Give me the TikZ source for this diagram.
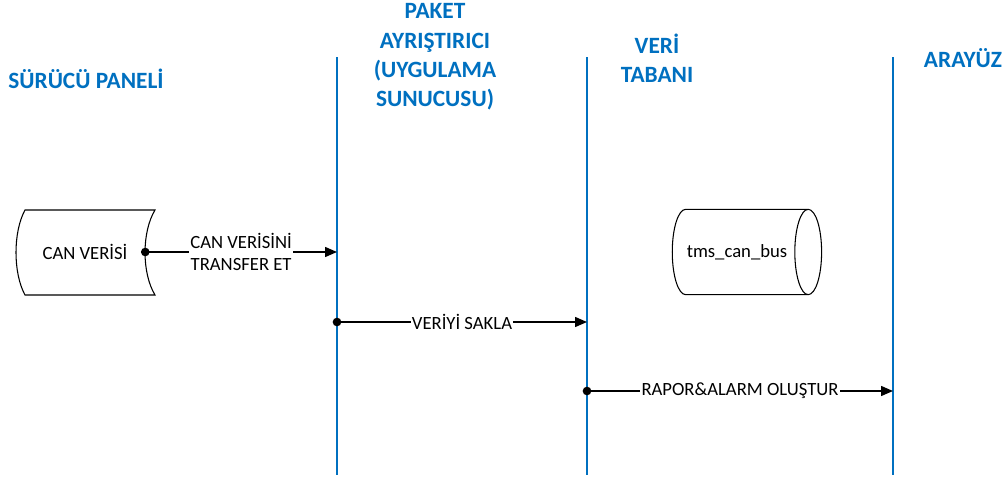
\documentclass[tikz,border=0pt]{standalone}
\usepackage{fontspec}
\setmainfont{Carlito}
\usepackage{tikz}
\usetikzlibrary{positioning, shapes.geometric, arrows.meta}
\definecolor{laneblue}{RGB}{0,112,192}
\tikzset{
  lanehead/.style={text=laneblue, font=\fontsize{17.5}{22}\selectfont\bfseries, align=center},
  lane/.style={draw=laneblue, line width=2.2pt},
  msg/.style={draw, line width=1.1pt, -{Triangle[length=9pt,width=7.5pt]}},
  msglabel/.style={fill=white, font=\fontsize{14}{17}\selectfont, inner sep=1pt, align=center},
  startdot/.style={circle, fill, inner sep=0pt, minimum size=6.5pt},
}

\begin{document}
\begin{tikzpicture}[x=0.75pt, y=-0.75pt]
    \useasboundingbox (0,0) rectangle (1007,489);
    % lane titles
    \node (surucu) at (86,79)   [lanehead] {SÜRÜCÜ PANELİ};
    \node (paket)  at (435,57)  [lanehead] {PAKET\\AYRIŞTIRICI\\(UYGULAMA\\SUNUCUSU)};
    \node (veri)   at (657,58)  [lanehead] {VERİ\\TABANI};
    \node (arayuz) at (963,58)  [lanehead] {ARAYÜZ};
    % lifelines
    \coordinate (pakettop) at (337,57);  \coordinate (paketbot) at (337,475);
    \coordinate (veritop)  at (587,57);  \coordinate (veribot)  at (587,475);
    \coordinate (arayuztop) at (893,57); \coordinate (arayuzbot) at (893,475);
    \draw[lane] (pakettop) -- (paketbot);
    \draw[lane] (veritop) -- (veribot);
    \draw[lane] (arayuztop) -- (arayuzbot);
    % stored data and database
    \node (canveri) at (85,252) [minimum width=90pt, minimum height=64pt, font=\fontsize{14}{17}\selectfont] {CAN VERİSİ};
    \draw[line width=0.8pt] (25,210) -- (155,210) .. controls (141.7,232) and (141.7,273) .. (155,295)
        -- (25,295) .. controls (13,273) and (13,232) .. (25,210) -- cycle;
    \node (tmsdb) at (737,252) [cylinder, draw, line width=0.8pt, shape aspect=1.1, minimum width=64pt, minimum height=112pt, font=\fontsize{14}{17}\selectfont] {tms\_can\_bus};
    % messages
    \coordinate (paketin)  at (337,252);
    \coordinate (paketout) at (337,322);
    \coordinate (veriin)   at (587,322);
    \coordinate (veriout)  at (587,391);
    \coordinate (arayuzin) at (893,391);
    \node (dot1) [startdot] at (canveri.east) {};
    \node (dot2) [startdot] at (paketout) {};
    \node (dot3) [startdot] at (veriout) {};
    \draw[msg] (dot1.center) -- node[msglabel]{CAN VERİSİNİ\\TRANSFER ET} (paketin);
    \draw[msg] (dot2.center) -- node[msglabel]{VERİYİ SAKLA} (veriin);
    \draw[msg] (dot3.center) -- node[msglabel]{RAPOR\&ALARM OLUŞTUR} (arayuzin);
\end{tikzpicture}
\end{document}
